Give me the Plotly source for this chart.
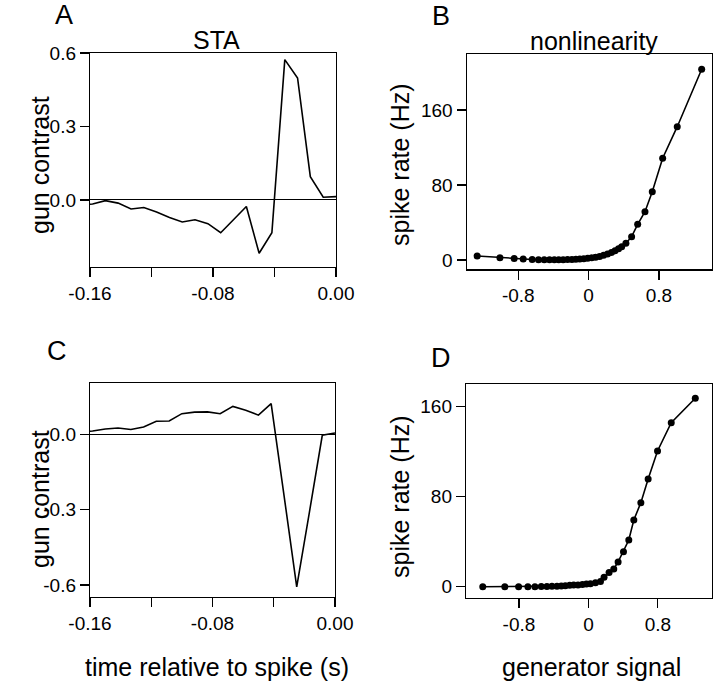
import plotly.graph_objects as go

# ---------------- data ----------------
# STA lag times (s), one frame = 1/120 s
sta_time = [-0.1667, -0.1583, -0.1500, -0.1417, -0.1333, -0.1250, -0.1167,
            -0.1083, -0.1000, -0.0917, -0.0833, -0.0750, -0.0667, -0.0583,
            -0.0500, -0.0417, -0.0333, -0.0250, -0.0167, -0.0083, 0.0]
sta_A = [-0.022, -0.017, -0.003, -0.013, -0.037, -0.031, -0.049, -0.072,
         -0.090, -0.081, -0.097, -0.134, -0.081, -0.027, -0.218, -0.134,
         0.573, 0.498, 0.095, 0.011, 0.0135]
sta_C = [0.008, 0.013, 0.021, 0.025, 0.019, 0.029, 0.052, 0.053, 0.082,
         0.088, 0.089, 0.082, 0.111, 0.096, 0.076, 0.122, -0.243, -0.608,
         -0.310, -0.004, 0.005]

gen_B = [-1.268, -1.009, -0.847, -0.744, -0.642, -0.57, -0.505, -0.445,
         -0.39, -0.34, -0.29, -0.24, -0.19, -0.145, -0.10, -0.055, -0.01,
         0.035, 0.08, 0.125, 0.17, 0.215, 0.26, 0.30, 0.34, 0.376, 0.424,
         0.489, 0.558, 0.641, 0.724, 0.842, 1.008, 1.286]
rate_B = [4.3, 2.5, 1.6, 1.1, 0.6, 0.4, 0.3, 0.3, 0.3, 0.4, 0.4, 0.5, 0.6,
          0.8, 1.0, 1.4, 1.8, 2.3, 3.0, 3.8, 5.0, 6.3, 8.0, 10.0, 12.0, 14.2,
          17.8, 24.9, 38.1, 51.5, 72.9, 108.5, 142.2, 203.4]

gen_D = [-1.217, -0.963, -0.804, -0.697, -0.616, -0.543, -0.478, -0.420,
         -0.362, -0.312, -0.266, -0.216, -0.170, -0.120, -0.069, -0.023,
         0.023, 0.081, 0.139, 0.180, 0.238, 0.292, 0.342, 0.404, 0.465,
         0.523, 0.604, 0.688, 0.796, 0.954, 1.231]
rate_D = [0.0, 0.0, 0.0, 0.0, 0.0, 0.2, 0.2, 0.3, 0.4, 0.5, 0.8, 1.3, 1.4,
          1.6, 1.9, 2.3, 2.6, 3.6, 4.7, 8.3, 12.5, 15.7, 22.0, 31.1, 41.5,
          59.3, 74.7, 95.7, 120.6, 145.8, 167.5]

sta_ticks = [-0.16, -0.12, -0.08, -0.04, 0.0]
sta_ticktext = ["-0.16", "", "-0.08", "", "0.00"]
gen_ticks = [-0.8, 0.0, 0.8]
gen_ticktext = ["-0.8", "0", "0.8"]
staA_yticks = [0.6, 0.3, 0.0]
staA_yticktext = ["0.6", "0.3", "0.0"]
staC_yticks = [0.0, -0.3, -0.6]
staC_yticktext = ["0.0", "-0.3", "-0.6"]
rate_ticks = [0, 80, 160]
rate_ticktext = ["0", "80", "160"]

# ---------------- figure ----------------
W, H = 720, 682
FONT = "Liberation Sans, Arial, Helvetica, sans-serif"


def px(x):
    return x / W


def py(y):
    return 1 - y / H


fig = go.Figure()
line = dict(color="black", width=1.6)
fig.add_trace(go.Scatter(x=sta_time, y=sta_A, mode="lines", line=line,
                         xaxis="x", yaxis="y", showlegend=False))
fig.add_trace(go.Scatter(x=gen_B, y=rate_B, mode="lines+markers", line=line,
                         marker=dict(color="black", size=7),
                         xaxis="x2", yaxis="y2", showlegend=False))
fig.add_trace(go.Scatter(x=sta_time, y=sta_C, mode="lines", line=line,
                         xaxis="x3", yaxis="y3", showlegend=False))
fig.add_trace(go.Scatter(x=gen_D, y=rate_D, mode="lines+markers", line=line,
                         marker=dict(color="black", size=7),
                         xaxis="x4", yaxis="y4", showlegend=False))

ax_common = dict(showline=True, mirror=True, linecolor="black", linewidth=1.2,
                 ticks="outside", ticklen=9, tickwidth=1.2, tickcolor="black",
                 showgrid=False, zeroline=False, automargin=False,
                 tickfont=dict(family=FONT, size=19, color="black"))

fig.update_layout(
    template="none",
    width=W, height=H, margin=dict(l=0, r=0, t=0, b=0, pad=0, autoexpand=False),
    paper_bgcolor="white", plot_bgcolor="white",
    font=dict(family=FONT, color="black"),
    xaxis=dict(ax_common, domain=[px(90), px(336)], range=[-0.16, 0.0],
               tickvals=sta_ticks, ticktext=sta_ticktext, anchor="y"),
    yaxis=dict(ax_common, domain=[py(267), py(53)], range=[-0.274, 0.6],
               tickvals=staA_yticks, ticktext=staA_yticktext, anchor="x",
               zeroline=True, zerolinecolor="black", zerolinewidth=1),
    xaxis2=dict(ax_common, domain=[px(466.7), px(711.7)], range=[-1.387, 1.40],
                tickvals=gen_ticks, ticktext=gen_ticktext, anchor="y2"),
    yaxis2=dict(ax_common, domain=[py(269.3), py(54.3)], range=[-9.9, 219.4],
                tickvals=rate_ticks, ticktext=rate_ticktext, anchor="x2"),
    xaxis3=dict(ax_common, domain=[px(90), px(335)], range=[-0.16, 0.0],
                tickvals=sta_ticks, ticktext=sta_ticktext, anchor="y3"),
    yaxis3=dict(ax_common, domain=[py(596.7), py(383.3)], range=[-0.647, 0.203],
                tickvals=staC_yticks, ticktext=staC_yticktext, anchor="x3",
                zeroline=True, zerolinecolor="black", zerolinewidth=1),
    xaxis4=dict(ax_common, domain=[px(466), px(711.7)], range=[-1.41, 1.42],
                tickvals=gen_ticks, ticktext=gen_ticktext, anchor="y4"),
    yaxis4=dict(ax_common, domain=[py(597.7), py(384.3)], range=[-9.8, 179.9],
                tickvals=rate_ticks, ticktext=rate_ticktext, anchor="x4"),
)


def note(text, x, y, size, angle=0):
    fig.add_annotation(text=text, x=px(x), y=py(y), xref="paper", yref="paper",
                       xanchor="center", yanchor="middle", showarrow=False,
                       textangle=angle,
                       font=dict(family=FONT, size=size, color="black"))


note("A", 64, 15, 27)
note("B", 441, 16, 27)
note("C", 57, 351, 27)
note("D", 441, 358, 27)
note("STA", 216, 40, 25)
note("nonlinearity", 594, 41, 25)
note("gun contrast", 40, 165, 25, -90)
note("gun contrast", 40, 499, 25, -90)
note("spike rate (Hz)", 400, 165, 25, -90)
note("spike rate (Hz)", 400, 497, 25, -90)
note("time relative to spike (s)", 217, 667, 25)
note("generator signal", 591, 667, 25)

# remove the page's default 8 px body margin so the figure fills the window
fig.write_html("out.html",
               config={"displayModeBar": False, "staticPlot": True},
               post_script="document.body.style.margin='0';"
                           "document.body.style.overflow='hidden';")
